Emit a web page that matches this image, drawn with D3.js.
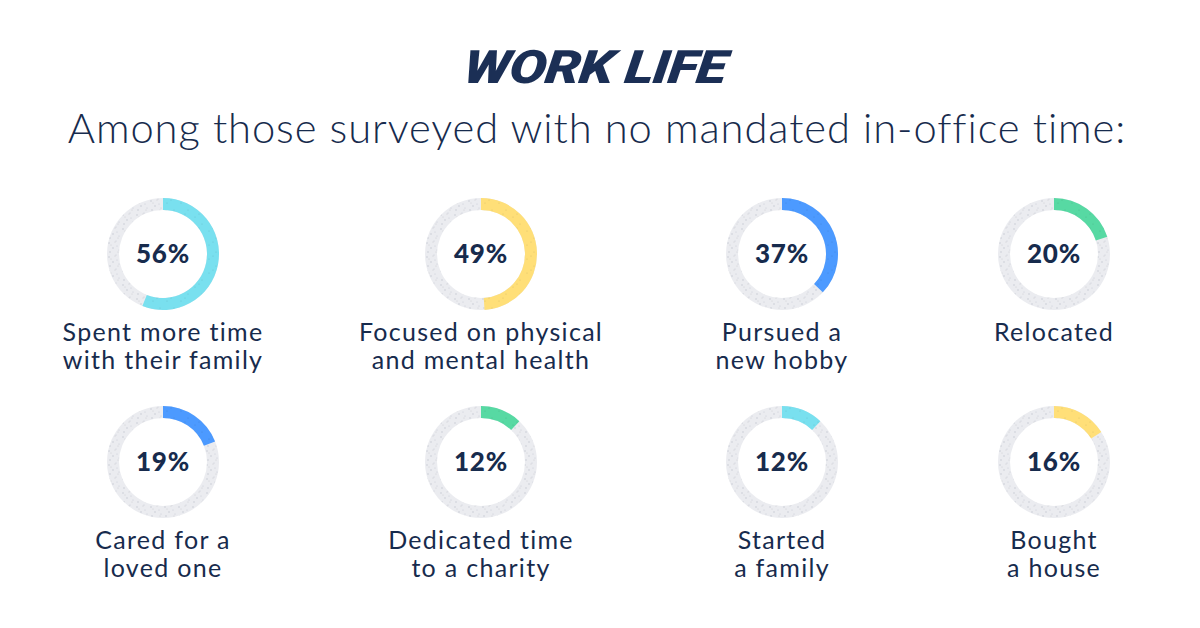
<!DOCTYPE html>
<html>
<head>
<meta charset="utf-8">
<script src="https://cdn.jsdelivr.net/npm/d3@7"></script>
<style>
  body { margin: 0; background: #fff; }
  svg { display: block; }
</style>
</head>
<body>
<svg id="canvas" width="1200" height="628"></svg>
<script>
// data
const percents = [56, 49, 37, 20, 19, 12, 12, 16];
const labels = [
  ["Spent more time", "with their family"],
  ["Focused on physical", "and mental health"],
  ["Pursued a", "new hobby"],
  ["Relocated"],
  ["Cared for a", "loved one"],
  ["Dedicated time", "to a charity"],
  ["Started", "a family"],
  ["Bought", "a house"]
];
const colorKeys = ["cyan", "yellow", "blue", "green", "blue", "green", "cyan", "yellow"];
const palette = { cyan: "#79e0ef", yellow: "#ffdf78", blue: "#4c9aff", green: "#57d9a3" };

const navy = "#172b4d";
const svg = d3.select("#canvas");

// speckle texture for the grey track
const defs = svg.append("defs");
const pat = defs.append("pattern")
  .attr("id", "speckle")
  .attr("patternUnits", "userSpaceOnUse")
  .attr("width", 14).attr("height", 14);
pat.append("rect").attr("width", 14).attr("height", 14).attr("fill", "#ebecf0");
[[2, 3], [9, 1], [6, 8], [12, 10], [3, 12], [10, 6]].forEach((d, i) => {
  pat.append("circle")
    .attr("cx", d[0]).attr("cy", d[1])
    .attr("r", i % 2 ? 0.6 : 0.8)
    .attr("fill", "#c9ccd6");
});
const pat2 = defs.append("pattern")
  .attr("id", "speckle2")
  .attr("patternUnits", "userSpaceOnUse")
  .attr("width", 14).attr("height", 14);
[[4, 5], [11, 12], [8, 2]].forEach(d => {
  pat2.append("circle").attr("cx", d[0]).attr("cy", d[1]).attr("r", 0.6)
    .attr("fill", "#000").attr("opacity", 0.12);
});

// header
const logoG = svg.append("g");
const logo = logoG.append("text")
  .attr("x", 0).attr("y", 0)
  .attr("text-anchor", "middle")
  .attr("font-family", "Roboto")
  .attr("font-weight", 900)
  .attr("font-style", "italic")
  .attr("font-size", 46)
  .attr("letter-spacing", -1)
  .attr("fill", "#1b2f55")
  .text("WORK LIFE");
const lw = logo.node().getComputedTextLength();
logoG.attr("transform", `translate(593,83) scale(${262 / lw},1) skewX(-6)`);

const title = svg.append("text")
  .attr("x", 597).attr("y", 143)
  .attr("text-anchor", "middle")
  .attr("font-family", "Lato")
  .attr("font-weight", 300)
  .attr("font-size", 36)
  .attr("letter-spacing", 0.9)
  .attr("fill", navy)
  .text("Among those surveyed with no mandated in-office time:");

// fit header width
function fit(sel, target) {
  const w = sel.node().getComputedTextLength();
  const fs = +sel.attr("font-size");
  sel.attr("font-size", fs * target / w);
}
fit(title, 1066);

// layout
const colX = d3.scaleOrdinal().domain([0, 1, 2, 3]).range([163, 481, 782, 1054]);
const rowY = d3.scaleOrdinal().domain([0, 1]).range([254, 462]);
const outerR = 56, innerR = 44;

const arc = d3.arc().innerRadius(innerR).outerRadius(outerR);
const pctScale = d3.scaleLinear().domain([0, 100]).range([0, 2 * Math.PI]);

const items = percents.map((p, i) => ({
  p, lines: labels[i], color: palette[colorKeys[i]],
  col: i % 4, row: Math.floor(i / 4)
}));

const g = svg.selectAll("g.donut")
  .data(items)
  .enter()
  .append("g")
  .attr("class", "donut")
  .attr("transform", d => `translate(${colX(d.col)},${rowY(d.row)})`);

g.append("path")
  .attr("d", arc({ startAngle: 0, endAngle: 2 * Math.PI }))
  .attr("fill", "url(#speckle)");

g.append("path")
  .attr("d", d => arc({ startAngle: 0, endAngle: pctScale(d.p) }))
  .attr("fill", d => d.color);

g.append("path")
  .attr("d", arc({ startAngle: 0, endAngle: 2 * Math.PI }))
  .attr("fill", "url(#speckle2)");

g.append("text")
  .attr("text-anchor", "middle")
  .attr("y", 9)
  .attr("font-family", "Lato")
  .attr("font-weight", 900)
  .attr("font-size", 26)
  .attr("letter-spacing", 0.8)
  .attr("fill", navy)
  .text(d => d.p + "%");

g.append("text")
  .attr("text-anchor", "middle")
  .attr("font-family", "Lato")
  .attr("font-size", 25)
  .attr("letter-spacing", 1.3)
  .attr("fill", navy)
  .selectAll("tspan")
  .data(d => d.lines)
  .enter()
  .append("tspan")
  .attr("x", 0)
  .attr("y", (d, i) => 87 + i * 28)
  .text(d => d);
</script>
</body>
</html>
